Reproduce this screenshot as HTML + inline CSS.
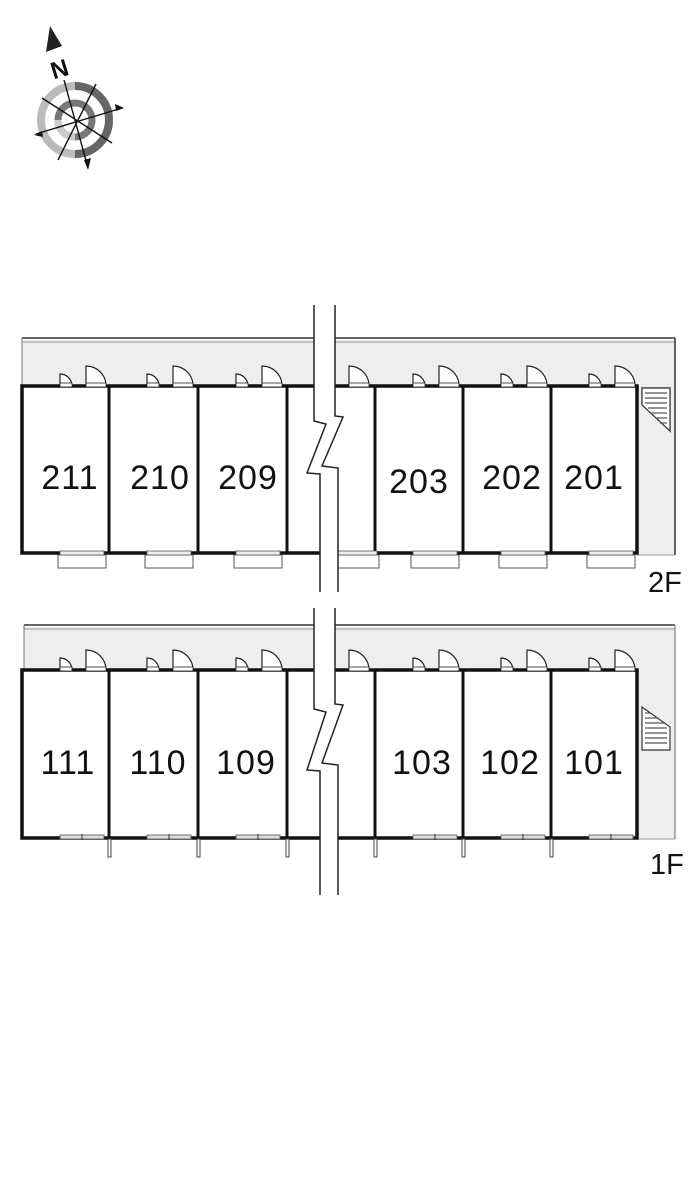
<!DOCTYPE html>
<html><head><meta charset="utf-8"><style>
html,body{margin:0;padding:0;background:#fff;width:700px;height:1201px;overflow:hidden}
text{font-family:"Liberation Sans",sans-serif;fill:#111}
</style></head><body>
<svg width="700" height="1201" viewBox="0 0 700 1201" xmlns="http://www.w3.org/2000/svg">
<defs>
<g id="doors">
  <path d="M38 386 L38 374 A12 12 0 0 1 50 386 Z" fill="#fff" stroke="#222" stroke-width="1.2"/>
  <rect x="38" y="383" width="12" height="4" fill="#fff" stroke="#222" stroke-width="0.8"/>
  <path d="M64 386 L64 366 A20 20 0 0 1 84 386 Z" fill="#fff" stroke="#222" stroke-width="1.2"/>
  <rect x="64" y="383" width="20" height="4" fill="#fff" stroke="#222" stroke-width="0.8"/>
</g>
<g id="win2">
  <rect x="36" y="555" width="48" height="13" fill="#fff" stroke="#555" stroke-width="1"/>
  <rect x="38" y="551" width="44" height="4" fill="#eee" stroke="#555" stroke-width="0.8"/>
</g>
<g id="win1">
  <rect x="38" y="835" width="44" height="4" fill="#ddd" stroke="#555" stroke-width="0.8"/>
  <line x1="60" y1="834" x2="60" y2="840" stroke="#333"/>
</g>
</defs>

<!-- compass -->
<g>
  <circle cx="75" cy="120" r="34" fill="none" stroke="#bbb" stroke-width="8"/>
  <path d="M75 86 A34 34 0 0 1 109 120 A34 34 0 0 1 75 154" fill="none" stroke="#666" stroke-width="8"/>
  <circle cx="75" cy="120" r="17" fill="none" stroke="#777" stroke-width="7"/>
  <path d="M58 120 A17 17 0 0 0 75 137" fill="none" stroke="#ccc" stroke-width="7"/>
  <g stroke="#111" stroke-width="1.4">
    <line x1="64" y1="80" x2="88" y2="168"/>
    <line x1="36" y1="134" x2="122" y2="108"/>
    <line x1="42" y1="98" x2="112" y2="143"/>
    <line x1="58" y1="160" x2="96" y2="84"/>
  </g>
  <polygon points="88,170 84,160 91,158" fill="#111"/>
  <polygon points="124,108 115,104 116,111" fill="#111"/>
  <polygon points="34,135 42,131 43,137" fill="#111"/>
  <polygon points="50,26 46,52 62,46" fill="#222"/>
  <text x="50" y="77" font-size="24" font-weight="bold" transform="rotate(-17 60 66)" font-family="Liberation Serif">N</text>
</g>

<!-- ===== 2F ===== -->
<g>
  <rect x="22" y="340" width="653" height="46" fill="#eee"/>
  <rect x="637" y="386" width="38" height="169" fill="#eee"/>
  <line x1="22" y1="338" x2="675" y2="338" stroke="#333" stroke-width="1.5"/>
  <line x1="22" y1="342" x2="675" y2="342" stroke="#999" stroke-width="1"/>
  <line x1="22" y1="338" x2="22" y2="386" stroke="#777" stroke-width="1"/>
  <line x1="675" y1="338" x2="675" y2="555" stroke="#333" stroke-width="1.5"/>
  <line x1="637" y1="555" x2="675" y2="555" stroke="#999" stroke-width="1"/>
  <!-- stair 2F -->
  <g>
    <polygon points="642,388 670,388 670,431" fill="#fff" stroke="#333" stroke-width="1.2"/>
    <line x1="642" y1="388" x2="642" y2="405" stroke="#333" stroke-width="1.2"/>
    <polygon points="642,388 670,388 670,431 642,405" fill="#fff" stroke="#333" stroke-width="1.2"/>
    <g stroke="#555" stroke-width="1.2">
      <line x1="645" y1="393" x2="667" y2="393"/><line x1="645" y1="398" x2="667" y2="398"/>
      <line x1="645" y1="403" x2="667" y2="403"/><line x1="648" y1="408" x2="667" y2="408"/>
      <line x1="652" y1="413" x2="667" y2="413"/><line x1="656" y1="418" x2="667" y2="418"/>
      <line x1="660" y1="423" x2="667" y2="423"/>
    </g>
  </g>
  <rect x="22" y="386" width="615" height="167" fill="#fff" stroke="#111" stroke-width="3.5"/>
  <g stroke="#111" stroke-width="3">
    <line x1="109" y1="386" x2="109" y2="553"/><line x1="198" y1="386" x2="198" y2="553"/>
    <line x1="287" y1="386" x2="287" y2="553"/><line x1="375" y1="386" x2="375" y2="553"/>
    <line x1="463" y1="386" x2="463" y2="553"/><line x1="551" y1="386" x2="551" y2="553"/>
  </g>
  <use href="#doors" x="22"/><use href="#doors" x="109"/><use href="#doors" x="198"/>
  <use href="#doors" x="375"/><use href="#doors" x="463"/><use href="#doors" x="551"/>
  <use href="#doors" x="285"/>
  <use href="#win2" x="22"/><use href="#win2" x="109"/><use href="#win2" x="198"/>
  <use href="#win2" x="375"/><use href="#win2" x="463"/><use href="#win2" x="551"/>
  <use href="#win2" x="295"/>
  <g font-size="34" text-anchor="middle" letter-spacing="1">
    <text x="70" y="489">211</text><text x="160" y="489">210</text><text x="248" y="489">209</text>
    <text x="419" y="493">203</text><text x="512" y="489">202</text><text x="594" y="489">201</text>
  </g>
  <text x="648" y="592" font-size="29">2F</text>
</g>

<!-- ===== 1F ===== -->
<g>
  <rect x="24" y="627" width="651" height="43" fill="#eee"/>
  <rect x="637" y="670" width="38" height="169" fill="#eee"/>
  <line x1="24" y1="625" x2="675" y2="625" stroke="#333" stroke-width="1.5"/>
  <line x1="24" y1="629" x2="675" y2="629" stroke="#999" stroke-width="1"/>
  <line x1="24" y1="625" x2="24" y2="670" stroke="#777" stroke-width="1"/>
  <line x1="675" y1="625" x2="675" y2="839" stroke="#999" stroke-width="1.5"/>
  <line x1="637" y1="839" x2="675" y2="839" stroke="#999" stroke-width="1"/>
  <!-- stair 1F -->
  <g>
    <polygon points="642,707 670,727 670,750 642,750" fill="#fff" stroke="#333" stroke-width="1.2"/>
    <g stroke="#555" stroke-width="1.2">
      <line x1="645" y1="713" x2="650" y2="713"/><line x1="645" y1="718" x2="657" y2="718"/>
      <line x1="645" y1="723" x2="664" y2="723"/><line x1="645" y1="728" x2="667" y2="728"/>
      <line x1="645" y1="733" x2="667" y2="733"/><line x1="645" y1="738" x2="667" y2="738"/>
      <line x1="645" y1="743" x2="667" y2="743"/>
    </g>
  </g>
  <rect x="22" y="670" width="615" height="168" fill="#fff" stroke="#111" stroke-width="3.5"/>
  <g stroke="#111" stroke-width="3">
    <line x1="109" y1="670" x2="109" y2="838"/><line x1="198" y1="670" x2="198" y2="838"/>
    <line x1="287" y1="670" x2="287" y2="838"/><line x1="375" y1="670" x2="375" y2="838"/>
    <line x1="463" y1="670" x2="463" y2="838"/><line x1="551" y1="670" x2="551" y2="838"/>
  </g>
  <g transform="translate(0,284)">
    <use href="#doors" x="22"/><use href="#doors" x="109"/><use href="#doors" x="198"/>
    <use href="#doors" x="375"/><use href="#doors" x="463"/><use href="#doors" x="551"/>
    <use href="#doors" x="285"/>
  </g>
  <use href="#win1" x="22"/><use href="#win1" x="109"/><use href="#win1" x="198"/>
  <use href="#win1" x="375"/><use href="#win1" x="463"/><use href="#win1" x="551"/>
  <g fill="#fff" stroke="#444" stroke-width="1">
    <rect x="108" y="839" width="3" height="18"/><rect x="197" y="839" width="3" height="18"/>
    <rect x="286" y="839" width="3" height="18"/><rect x="374" y="839" width="3" height="18"/>
    <rect x="462" y="839" width="3" height="18"/><rect x="550" y="839" width="3" height="18"/>
  </g>
  <g font-size="34" text-anchor="middle" letter-spacing="1">
    <text x="68" y="774">111</text><text x="158" y="774">110</text><text x="246" y="774">109</text>
    <text x="422" y="774">103</text><text x="510" y="774">102</text><text x="594" y="774">101</text>
  </g>
  <text x="650" y="874" font-size="29">1F</text>
</g>

<!-- break lines 2F -->
<g>
  <polygon points="314,305 314,421 326,424 307,473 320,474 320,592 338,592 338,468 322,466 343,417 335,416 335,305" fill="#fff"/>
  <polyline points="314,305 314,421 326,424 307,473 320,474 320,592" fill="none" stroke="#222" stroke-width="1.5"/>
  <polyline points="335,305 335,416 343,417 322,466 338,468 338,592" fill="none" stroke="#222" stroke-width="1.5"/>
</g>
<!-- break lines 1F -->
<g transform="translate(0,303)">
  <polygon points="314,305 314,406 326,409 307,467 320,468 320,592 338,592 338,462 322,460 343,402 335,401 335,305" fill="#fff"/>
  <polyline points="314,305 314,406 326,409 307,467 320,468 320,592" fill="none" stroke="#222" stroke-width="1.5"/>
  <polyline points="335,305 335,401 343,402 322,460 338,462 338,592" fill="none" stroke="#222" stroke-width="1.5"/>
</g>
</svg>
</body></html>
